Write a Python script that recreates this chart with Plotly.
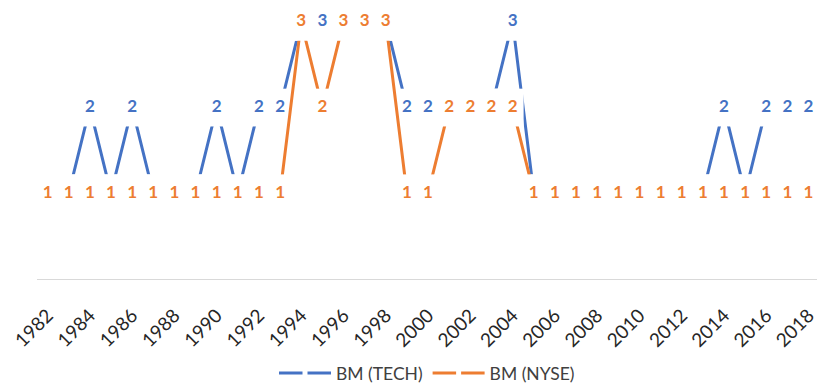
import plotly.graph_objects as go

# Book-to-market tercile per year, technology firms vs. NYSE breakpoints
years = [1982, 1983, 1984, 1985, 1986, 1987, 1988, 1989, 1990, 1991,
         1992, 1993, 1994, 1995, 1996, 1997, 1998, 1999, 2000, 2001,
         2002, 2003, 2004, 2005, 2006, 2007, 2008, 2009, 2010, 2011,
         2012, 2013, 2014, 2015, 2016, 2017, 2018]
bm_tech = [1, 1, 2, 1, 2, 1, 1, 1, 2, 1,
           2, 2, 3, 3, 3, 3, 3, 2, 2, 2,
           2, 2, 3, 1, 1, 1, 1, 1, 1, 1,
           1, 1, 2, 1, 2, 2, 2]
bm_nyse = [1, 1, 1, 1, 1, 1, 1, 1, 1, 1,
           1, 1, 3, 2, 3, 3, 3, 1, 1, 2,
           2, 2, 2, 1, 1, 1, 1, 1, 1, 1,
           1, 1, 1, 1, 1, 1, 1]
tick_years = [1982, 1984, 1986, 1988, 1990, 1992, 1994, 1996, 1998, 2000,
              2002, 2004, 2006, 2008, 2010, 2012, 2014, 2016, 2018]
tick_labels = [str(y) for y in tick_years]

series = [
    ("BM (TECH)", bm_tech, "#4472C4"),
    ("BM (NYSE)", bm_nyse, "#ED7D31"),
]

FONT = "Lato"

fig = go.Figure()
for name, vals, color in series:
    # white label boxes sit on each point and hide the line behind the value
    fig.add_trace(go.Scatter(
        x=years, y=vals, name=name,
        mode="lines+markers+text",
        line=dict(color=color, width=3),
        marker=dict(symbol="line-ns", size=27, color="white",
                    line=dict(color="white", width=22)),
        text=[str(v) for v in vals],
        textposition="middle center",
        textfont=dict(family=FONT, size=17, color=color, weight="bold"),
        cliponaxis=False,
        hoverinfo="skip",
    ))

fig.update_layout(
    width=817, height=391,
    margin=dict(l=37, r=0, t=0, b=112),
    paper_bgcolor="white", plot_bgcolor="white",
    font=dict(family=FONT, size=17, color="#404040"),
    showlegend=True,
    legend=dict(orientation="h", x=0.5, xanchor="center",
                y=-0.337, yanchor="middle",
                font=dict(family=FONT, size=17.5, color="#404040"),
                itemwidth=52, bgcolor="rgba(0,0,0,0)"),
    xaxis=dict(range=[1981.5, 2018.4], tickmode="array",
               tickvals=tick_years, ticktext=tick_labels,
               tickangle=-45, showgrid=False, zeroline=False,
               showline=True, linecolor="#D9D9D9", linewidth=1,
               ticks="", ticklabelstandoff=17, ticklabeloverflow="allow",
               tickfont=dict(family=FONT, size=19, color="#262626")),
    yaxis=dict(range=[0, 3.255], visible=False, showgrid=False,
               zeroline=False),
)

fig.write_html("out.html")
